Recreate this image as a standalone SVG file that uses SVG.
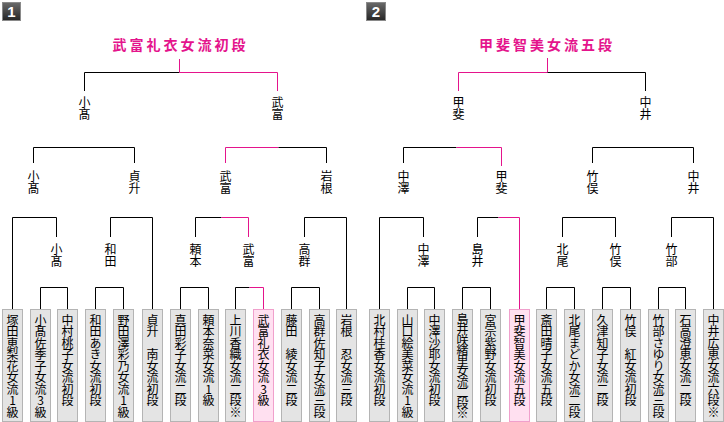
<svg xmlns="http://www.w3.org/2000/svg" width="724" height="422" viewBox="0 0 724 422">
<defs>
<linearGradient id="bg" x1="0" y1="0" x2="0" y2="1">
<stop offset="0" stop-color="#6a6a6a"/>
<stop offset="1" stop-color="#262626"/>
</linearGradient>
</defs>
<style>
.v{font-family:"Noto Sans CJK JP","Noto Sans CJK SC",sans-serif;font-size:12px;fill:#000;writing-mode:vertical-rl;text-orientation:upright;}
.p{letter-spacing:-0.5px;}
.p10{letter-spacing:-1.5px;}
.box{fill:#e4e4e4;stroke:#b4b4b4;stroke-width:1;}
.pbox{fill:#ffe0f0;stroke:#f0a0cc;stroke-width:1;}
.ln{fill:none;stroke:#000;stroke-width:1;}
.pk{fill:none;stroke:#e4148c;stroke-width:1;}
.title{font-family:"Noto Sans CJK JP","Noto Sans CJK SC",sans-serif;font-size:14px;font-weight:bold;fill:#e4148c;letter-spacing:3px;text-anchor:middle;}
.badge{fill:url(#bg);stroke:#8a8a8a;stroke-width:1;}
.bt{font-family:"Liberation Sans",Arial,sans-serif;font-size:15px;font-weight:bold;fill:#fff;text-anchor:middle;}
</style>

<g id="badge1"><rect class="badge" x="2.5" y="2.5" width="18" height="18"/><text class="bt" x="11.5" y="17">1</text></g>
<g id="badge2"><rect class="badge" x="366.5" y="2.5" width="19" height="18"/><text class="bt" x="376" y="17">2</text></g>

<g id="title1"><text class="title" x="180.5" y="50">武富礼衣女流初段</text></g>
<g id="title2"><text class="title" x="547" y="50">甲斐智美女流五段</text></g>

<g id="connectors">
<!-- left -->
<path class="ln" d="M84.5,91 V72.5 H179.5"/>
<path class="pk" d="M179.5,59 V72.5 H277.5 V91"/>
<path class="ln" d="M33.5,163 V147.5 H134.5 V163"/>
<path class="pk" d="M225.5,163 V147.5 H278.5"/>
<path class="ln" d="M278.5,147.5 H326.5 V163"/>
<path class="ln" d="M12.5,309 V217.5 H56.5 V237"/>
<path class="ln" d="M110.5,237 V217.5 H152.5 V309"/>
<path class="ln" d="M195.5,237 V217.5 H221.5"/>
<path class="pk" d="M221.5,217.5 H248.5 V237"/>
<path class="ln" d="M304.5,237 V217.5 H346.5 V309"/>
<path class="ln" d="M40.5,309 V287.5 H67.5 V309"/>
<path class="ln" d="M95.5,309 V287.5 H123.5 V309"/>
<path class="ln" d="M180.5,309 V287.5 H208.5 V309"/>
<path class="ln" d="M235.5,309 V287.5 H249.5"/>
<path class="pk" d="M249.5,287.5 H263.5 V309"/>
<path class="ln" d="M291.5,309 V287.5 H319.5 V309"/>
<!-- right -->
<path class="pk" d="M458.5,91 V72.5 H547.5 M547.5,58 V72.5"/>
<path class="ln" d="M547.5,72.5 H645.5 V91"/>
<path class="ln" d="M403.5,163 V147.5 H456.5"/>
<path class="pk" d="M456.5,147.5 H501.5 V166"/>
<path class="ln" d="M592.5,163 V147.5 H693.5 V163"/>
<path class="ln" d="M379.5,309 V217.5 H423.5 V237"/>
<path class="ln" d="M477.5,237 V217.5 H498.5"/>
<path class="pk" d="M498.5,217.5 H519.5 V309"/>
<path class="ln" d="M562.5,237 V217.5 H615.5 V237"/>
<path class="ln" d="M671.5,237 V217.5 H713.5 V309"/>
<path class="ln" d="M407.5,309 V287.5 H434.5 V309"/>
<path class="ln" d="M462.5,309 V287.5 H490.5 V309"/>
<path class="ln" d="M546.5,309 V287.5 H574.5 V309"/>
<path class="ln" d="M602.5,309 V287.5 H630.5 V309"/>
<path class="ln" d="M658.5,309 V287.5 H685.5 V309"/>
</g>

<!-- left labels -->
<g id="l-f1"><text class="v" x="84.5" y="96">小髙</text></g>
<g id="l-f2"><text class="v" x="277.5" y="96">武富</text></g>
<g id="l-s1"><text class="v" x="33.5" y="170">小髙</text></g>
<g id="l-s2"><text class="v" x="134.5" y="170">貞升</text></g>
<g id="l-s3"><text class="v" x="225.5" y="170">武富</text></g>
<g id="l-s4"><text class="v" x="326.5" y="170">岩根</text></g>
<g id="l-r1"><text class="v" x="56.5" y="243">小髙</text></g>
<g id="l-r2"><text class="v" x="110.5" y="243">和田</text></g>
<g id="l-r3"><text class="v" x="195.5" y="243">頼本</text></g>
<g id="l-r4"><text class="v" x="248.5" y="243">武富</text></g>
<g id="l-r5"><text class="v" x="304.5" y="243">高群</text></g>

<!-- right labels -->
<g id="r-f1"><text class="v" x="458.5" y="96">甲斐</text></g>
<g id="r-f2"><text class="v" x="645.5" y="96">中井</text></g>
<g id="r-s1"><text class="v" x="403.5" y="170">中澤</text></g>
<g id="r-s2"><text class="v" x="501.5" y="170">甲斐</text></g>
<g id="r-s3"><text class="v" x="592.5" y="170">竹俣</text></g>
<g id="r-s4"><text class="v" x="693.5" y="170">中井</text></g>
<g id="r-r1"><text class="v" x="423.5" y="243">中澤</text></g>
<g id="r-r2"><text class="v" x="477.5" y="243">島井</text></g>
<g id="r-r3"><text class="v" x="562.5" y="243">北尾</text></g>
<g id="r-r4"><text class="v" x="615.5" y="243">竹俣</text></g>
<g id="r-r5"><text class="v" x="671.5" y="243">竹部</text></g>

<!-- left players -->
<g id="lp1"><rect class="box" x="2.5" y="309.5" width="20" height="112"/><text class="v p" x="12.5" y="314">塚田恵梨花女流1級</text></g>
<g id="lp2"><rect class="box" x="30.5" y="309.5" width="20" height="112"/><text class="v p" x="40.5" y="314">小髙佐季子女流3級</text></g>
<g id="lp3"><rect class="box" x="57.5" y="309.5" width="20" height="112"/><text class="v p" x="67.5" y="314">中村桃子女流初段</text></g>
<g id="lp4"><rect class="box" x="85.5" y="309.5" width="20" height="112"/><text class="v p" x="95.5" y="314">和田あき女流初段</text></g>
<g id="lp5"><rect class="box" x="113.5" y="309.5" width="20" height="112"/><text class="v p" x="123.5" y="314">野田澤彩乃女流1級</text></g>
<g id="lp6"><rect class="box" x="142.5" y="309.5" width="20" height="112"/><text class="v p" x="152.5" y="314">貞升　南女流初段</text></g>
<g id="lp7"><rect class="box" x="170.5" y="309.5" width="20" height="112"/><text class="v p" x="180.5" y="314">真田彩子女流二段</text></g>
<g id="lp8"><rect class="box" x="198.5" y="309.5" width="20" height="112"/><text class="v p" x="208.5" y="314">頼本奈菜女流1級</text></g>
<g id="lp9"><rect class="box" x="225.5" y="309.5" width="20" height="112"/><text class="v p" x="235.5" y="314">上川香織女流二段※</text></g>
<g id="lp10"><rect class="pbox" x="253.5" y="309.5" width="20" height="112"/><text class="v p" x="263.5" y="314">武富礼衣女流3級</text></g>
<g id="lp11"><rect class="box" x="281.5" y="309.5" width="20" height="112"/><text class="v p" x="291.5" y="314">藤田　綾女流二段</text></g>
<g id="lp12"><rect class="box" x="309.5" y="309.5" width="20" height="112"/><text class="v p" x="319.5" y="314">高群佐知子女流三段</text></g>
<g id="lp13"><rect class="box" x="336.5" y="309.5" width="20" height="112"/><text class="v p" x="346.5" y="314">岩根　忍女流三段</text></g>

<!-- right players -->
<g id="rp1"><rect class="box" x="369.5" y="309.5" width="20" height="112"/><text class="v p" x="379.5" y="314">北村桂香女流初段</text></g>
<g id="rp2"><rect class="box" x="397.5" y="309.5" width="20" height="112"/><text class="v p" x="407.5" y="314">山口絵美菜女流1級</text></g>
<g id="rp3"><rect class="box" x="424.5" y="309.5" width="20" height="112"/><text class="v p" x="434.5" y="314">中澤沙耶女流初段</text></g>
<g id="rp4"><rect class="box" x="452.5" y="309.5" width="20" height="112"/><text class="v p10" x="462.5" y="313">島井咲緒里女流二段※</text></g>
<g id="rp5"><rect class="box" x="480.5" y="309.5" width="20" height="112"/><text class="v p" x="490.5" y="314">宮宗紫野女流初段</text></g>
<g id="rp6"><rect class="pbox" x="509.5" y="309.5" width="20" height="112"/><text class="v p" x="519.5" y="314">甲斐智美女流五段</text></g>
<g id="rp7"><rect class="box" x="536.5" y="309.5" width="20" height="112"/><text class="v p" x="546.5" y="314">斎田晴子女流五段</text></g>
<g id="rp8"><rect class="box" x="564.5" y="309.5" width="20" height="112"/><text class="v p" x="574.5" y="314">北尾まどか女流二段</text></g>
<g id="rp9"><rect class="box" x="592.5" y="309.5" width="20" height="112"/><text class="v p" x="602.5" y="314">久津知子女流二段</text></g>
<g id="rp10"><rect class="box" x="620.5" y="309.5" width="20" height="112"/><text class="v p" x="630.5" y="314">竹俣　紅女流初段</text></g>
<g id="rp11"><rect class="box" x="648.5" y="309.5" width="20" height="112"/><text class="v p" x="658.5" y="314">竹部さゆり女流三段</text></g>
<g id="rp12"><rect class="box" x="675.5" y="309.5" width="20" height="112"/><text class="v p" x="685.5" y="314">石高澄恵女流二段</text></g>
<g id="rp13"><rect class="box" x="703.5" y="309.5" width="20" height="112"/><text class="v p" x="713.5" y="314">中井広恵女流六段※</text></g>
</svg>
